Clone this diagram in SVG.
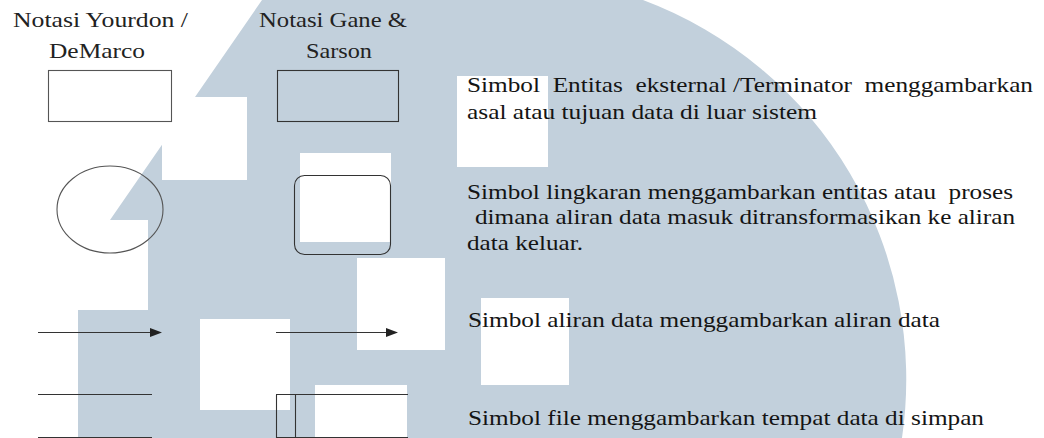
<svg xmlns="http://www.w3.org/2000/svg" width="1044" height="438" viewBox="0 0 1044 438">
  <style>
    .wm { fill: #c2d0dc; }
    .sq { fill: #ffffff; }
    .shape { fill: none; stroke: #333333; stroke-width: 1.1; }
    .shape-lt { fill: none; stroke: #555555; stroke-width: 1.1; }
    .ln { stroke: #333333; stroke-width: 1.1; fill: none; }
    .hd { fill: #222222; }
    .tx { fill: #141414; white-space: pre; }
  </style>
  <defs>
    <marker id="arrow" viewBox="0 0 12 9" markerWidth="12" markerHeight="9" markerUnits="userSpaceOnUse" refX="0" refY="4.5" orient="auto">
      <path d="M0,0 L12,4.5 L0,9 Z" fill="#222222"/>
    </marker>
  </defs>

  <rect width="1044" height="438" fill="#ffffff"/>

  <g id="watermark">
    <path class="wm" d="M262,0 L643,0 A405,405 0 0 1 902,438 L78,438 L78,310 L148,310 L148,220 L110,220 Z"/>
    <rect class="sq" x="162" y="97" width="85" height="83"/>
    <rect class="sq" x="300" y="153" width="91" height="89"/>
    <rect class="sq" x="357" y="258" width="88" height="92"/>
    <rect class="sq" x="200" y="319" width="90" height="91"/>
    <rect class="sq" x="315" y="385" width="92" height="53"/>
    <rect class="sq" x="457" y="76" width="91" height="91"/>
    <rect class="sq" x="481" y="298" width="88" height="87"/>
  </g>

  <g id="headings" font-family="Liberation Serif, serif" font-size="22">
    <text class="hd" x="13" y="27" textLength="175" lengthAdjust="spacingAndGlyphs">Notasi Yourdon /</text>
    <text class="hd" x="49" y="58" textLength="96" lengthAdjust="spacingAndGlyphs">DeMarco</text>
    <text class="hd" x="259" y="27" textLength="148" lengthAdjust="spacingAndGlyphs">Notasi Gane &amp;</text>
    <text class="hd" x="306" y="58" textLength="66" lengthAdjust="spacingAndGlyphs">Sarson</text>
  </g>

  <g id="yourdon-terminator">
    <rect class="shape-lt" x="48.5" y="70.5" width="123" height="51"/>
  </g>
  <g id="gane-terminator">
    <rect class="shape" x="277.5" y="70.5" width="121" height="51"/>
  </g>
  <g id="yourdon-process">
    <ellipse class="shape-lt" cx="110" cy="209.5" rx="53" ry="43.5"/>
  </g>
  <g id="gane-process">
    <rect class="shape" x="294.5" y="175.5" width="96" height="79" rx="10" ry="10"/>
  </g>
  <g id="yourdon-store">
    <line class="ln" x1="38" y1="394.5" x2="152" y2="394.5"/>
    <line class="ln" x1="38" y1="437.5" x2="152" y2="437.5"/>
  </g>
  <g id="gane-store">
    <line class="ln" x1="276" y1="394.5" x2="408" y2="394.5"/>
    <line class="ln" x1="276" y1="437.5" x2="408" y2="437.5"/>
    <line class="ln" x1="276.5" y1="394.5" x2="276.5" y2="438"/>
    <line class="ln" x1="295.5" y1="394.5" x2="295.5" y2="438"/>
  </g>

  <g id="connectors">
    <line class="ln" x1="38" y1="332.5" x2="150" y2="332.5" marker-end="url(#arrow)"/>
    <line class="ln" x1="276" y1="332.5" x2="386" y2="332.5" marker-end="url(#arrow)"/>
  </g>

  <g id="descriptions" font-family="Liberation Serif, serif" font-size="22">
    <text class="tx" x="467" y="92" textLength="566" lengthAdjust="spacingAndGlyphs">Simbol  Entitas  eksternal /Terminator  menggambarkan</text>
    <text class="tx" x="467" y="118.5" textLength="350" lengthAdjust="spacingAndGlyphs">asal atau tujuan data di luar sistem</text>
    <text class="tx" x="467" y="198.5" textLength="546" lengthAdjust="spacingAndGlyphs">Simbol lingkaran menggambarkan entitas atau  proses</text>
    <text class="tx" x="475" y="224" textLength="540" lengthAdjust="spacingAndGlyphs">dimana aliran data masuk ditransformasikan ke aliran</text>
    <text class="tx" x="467" y="250" textLength="116" lengthAdjust="spacingAndGlyphs">data keluar.</text>
    <text class="tx" x="468" y="327" textLength="472" lengthAdjust="spacingAndGlyphs">Simbol aliran data menggambarkan aliran data</text>
    <text class="tx" x="468" y="425" textLength="516" lengthAdjust="spacingAndGlyphs">Simbol file menggambarkan tempat data di simpan</text>
  </g>
</svg>
